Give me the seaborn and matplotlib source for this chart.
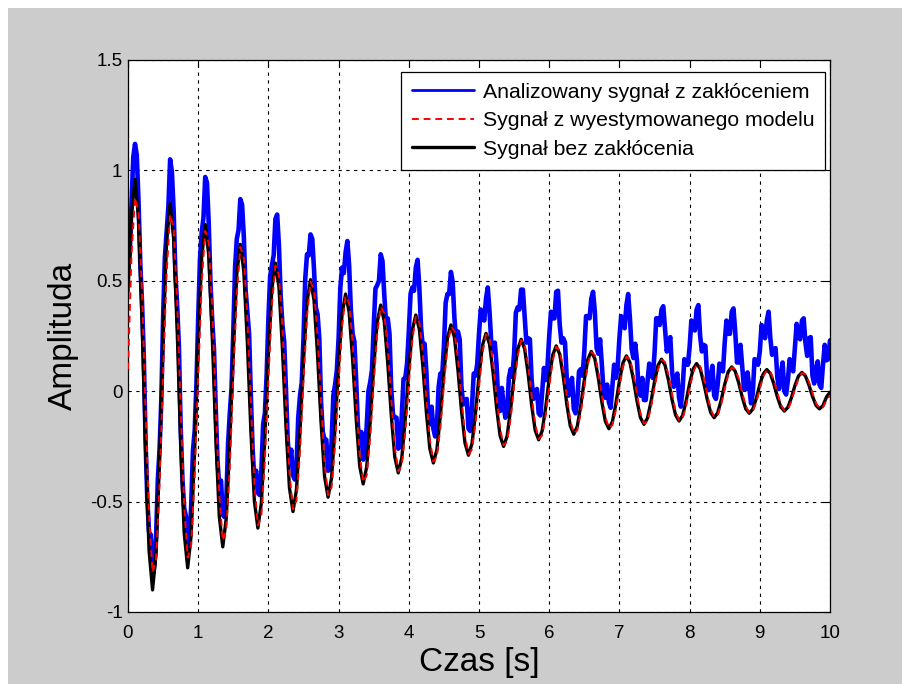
import numpy as np
import pandas as pd
import matplotlib
matplotlib.use("Agg")
import matplotlib.pyplot as plt
from matplotlib.patches import Rectangle
import seaborn as sns

# Dane odczytane z wykresu
# sygnal czysty i model: krok 0.05 s, sygnal z zakloceniem: krok 0.025 s
czas = np.round(np.arange(201) * 0.05, 3)
czas_szum = np.round(np.arange(401) * 0.025, 3)

sygnal_bez_zaklocen = [
    0.45, 0.80,
    0.96, 0.782, 0.317, -0.257, -0.722, -0.90, -0.733, -0.295, 0.245, 0.683, 0.85,
    0.692, 0.280, -0.230, -0.642, -0.80, -0.652, -0.263, 0.218, 0.607, 0.755,
    0.616, 0.251, -0.201, -0.566, -0.705, -0.574, -0.232, 0.192, 0.534, 0.665,
    0.542, 0.221, -0.176, -0.497, -0.62, -0.505, -0.205, 0.165, 0.465, 0.58,
    0.473, 0.191, -0.156, -0.438, -0.545, -0.445, -0.182, 0.142, 0.405, 0.505,
    0.411, 0.165, -0.140, -0.386, -0.48, -0.392, -0.162, 0.122, 0.352, 0.44,
    0.358, 0.143, -0.123, -0.338, -0.42, -0.343, -0.140, 0.110, 0.313, 0.39,
    0.317, 0.127, -0.107, -0.297, -0.37, -0.302, -0.123, 0.098, 0.277, 0.345,
    0.281, 0.114, -0.094, -0.261, -0.325, -0.265, -0.109, 0.084, 0.240, 0.30,
    0.244, 0.096, -0.086, -0.234, -0.29, -0.237, -0.099, 0.071, 0.209, 0.262,
    0.213, 0.085, -0.073, -0.201, -0.25, -0.204, -0.083, 0.068, 0.189, 0.235,
    0.192, 0.078, -0.063, -0.177, -0.22, -0.179, -0.073, 0.058, 0.164, 0.205,
    0.167, 0.067, -0.057, -0.157, -0.195, -0.159, -0.065, 0.050, 0.144, 0.18,
    0.147, 0.059, -0.049, -0.137, -0.17, -0.138, -0.056, 0.046, 0.128, 0.16,
    0.130, 0.053, -0.043, -0.120, -0.15, -0.122, -0.048, 0.043, 0.117, 0.145,
    0.118, 0.048, -0.038, -0.108, -0.135, -0.110, -0.045, 0.035, 0.100, 0.125,
    0.102, 0.040, -0.035, -0.097, -0.12, -0.098, -0.041, 0.031, 0.088, 0.11,
    0.090, 0.037, -0.027, -0.080, -0.10, -0.081, -0.032, 0.030, 0.079, 0.098,
    0.080, 0.033, -0.025, -0.072, -0.09, -0.073, -0.030, 0.025, 0.068, 0.085,
    0.069, 0.028, -0.023, -0.064, -0.08, -0.065, -0.026, -0.005,
]

sygnal_modelu = [
    0.10, 0.62,
    0.877, 0.811, 0.445, -0.080, -0.564, -0.821, -0.760, -0.416, 0.078, 0.534, 0.80,
    0.741, 0.406, -0.075, -0.518, -0.754, -0.697, -0.381, 0.072, 0.490, 0.726,
    0.672, 0.369, -0.065, -0.466, -0.678, -0.627, -0.343, 0.065, 0.440, 0.653,
    0.604, 0.332, -0.058, -0.418, -0.608, -0.563, -0.309, 0.055, 0.391, 0.569,
    0.527, 0.289, -0.053, -0.368, -0.535, -0.495, -0.273, 0.046, 0.340, 0.496,
    0.458, 0.250, -0.049, -0.325, -0.471, -0.436, -0.242, 0.038, 0.295, 0.432,
    0.399, 0.217, -0.044, -0.285, -0.412, -0.382, -0.210, 0.036, 0.262, 0.383,
    0.354, 0.193, -0.038, -0.250, -0.363, -0.336, -0.185, 0.032, 0.232, 0.338,
    0.313, 0.171, -0.032, -0.219, -0.319, -0.295, -0.163, 0.027, 0.202, 0.294,
    0.272, 0.147, -0.032, -0.197, -0.285, -0.264, -0.147, 0.021, 0.175, 0.257,
    0.238, 0.129, -0.026, -0.169, -0.245, -0.227, -0.125, 0.023, 0.159, 0.231,
    0.214, 0.117, -0.021, -0.148, -0.216, -0.200, -0.110, 0.019, 0.138, 0.201,
    0.186, 0.101, -0.020, -0.132, -0.191, -0.177, -0.098, 0.016, 0.121, 0.177,
    0.163, 0.089, -0.017, -0.115, -0.167, -0.154, -0.085, 0.016, 0.108, 0.157,
    0.145, 0.080, -0.014, -0.101, -0.147, -0.136, -0.074, 0.016, 0.099, 0.142,
    0.132, 0.072, -0.013, -0.091, -0.132, -0.123, -0.068, 0.011, 0.084, 0.123,
    0.113, 0.062, -0.013, -0.081, -0.118, -0.109, -0.060, 0.009, 0.074, 0.108,
    0.100, 0.056, -0.008, -0.067, -0.098, -0.091, -0.049, 0.011, 0.067, 0.096,
    0.089, 0.049, -0.008, -0.060, -0.088, -0.082, -0.045, 0.009, 0.057, 0.083,
    0.077, 0.042, -0.008, -0.054, -0.079, -0.073, -0.040, -0.020,
]

sygnal_zaklocony = [
    0.55, 0.62, 0.85, 1.06,
    1.12, 1.07, 0.86, 0.58, 0.40, 0.16, -0.22, -0.49, -0.64, -0.65,
    -0.84, -0.79, -0.66, -0.40, -0.26, -0.035, 0.33, 0.605, 0.72, 0.835,
    1.05, 0.995, 0.82, 0.535, 0.39, 0.205, -0.16, -0.395, -0.53, -0.565,
    -0.74, -0.69, -0.52, -0.27, -0.18, 0.035, 0.33, 0.595, 0.72, 0.785,
    0.97, 0.945, 0.76, 0.49, 0.32, 0.19, -0.08, -0.315, -0.43, -0.405,
    -0.56, -0.57, -0.50, -0.24, -0.10, 0.015, 0.27, 0.56, 0.69, 0.73,
    0.87, 0.845, 0.70, 0.46, 0.36, 0.26, -0.02, -0.26, -0.40, -0.36,
    -0.46, -0.47, -0.36, -0.15, -0.10, 0.075, 0.33, 0.52, 0.57, 0.615,
    0.78, 0.80, 0.66, 0.43, 0.30, 0.225, 0.01, -0.22, -0.33, -0.265,
    -0.38, -0.40, -0.34, -0.12, -0.02, 0.04, 0.24, 0.51, 0.62, 0.615,
    0.71, 0.69, 0.55, 0.38, 0.35, 0.24, -0.05, -0.185, -0.22, -0.22,
    -0.36, -0.355, -0.23, -0.02, 0.03, 0.095, 0.24, 0.47, 0.56, 0.535,
    0.63, 0.68, 0.57, 0.365, 0.26, 0.225, 0.05, -0.155, -0.24, -0.185,
    -0.31, -0.275, -0.16, 0.00, 0.04, 0.095, 0.29, 0.465, 0.48, 0.50,
    0.62, 0.59, 0.44, 0.315, 0.33, 0.26, 0.01, -0.105, -0.12, -0.12,
    -0.26, -0.245, -0.11, 0.055, 0.06, 0.125, 0.27, 0.44, 0.47, 0.455,
    0.56, 0.595, 0.47, 0.285, 0.20, 0.215, 0.09, -0.09, -0.15, -0.07,
    -0.17, -0.205, -0.16, 0.02, 0.08, 0.07, 0.20, 0.40, 0.44, 0.44,
    0.54, 0.495, 0.33, 0.23, 0.27, 0.235, 0.02, -0.06, -0.04, -0.035,
    -0.17, -0.18, -0.07, 0.08, 0.07, 0.125, 0.26, 0.37, 0.34, 0.32,
    0.42, 0.47, 0.36, 0.22, 0.18, 0.22, 0.12, -0.045, -0.09, 0.015,
    -0.06, -0.12, -0.10, 0.06, 0.10, 0.065, 0.17, 0.355, 0.38, 0.37,
    0.46, 0.46, 0.34, 0.22, 0.24, 0.235, 0.05, -0.035, -0.02, 0.01,
    -0.10, -0.11, 0.00, 0.105, 0.05, 0.11, 0.25, 0.36, 0.33, 0.33,
    0.45, 0.455, 0.30, 0.22, 0.24, 0.22, 0.06, -0.02, 0.02, 0.06,
    -0.08, -0.10, -0.04, 0.09, 0.10, 0.07, 0.18, 0.34, 0.34, 0.33,
    0.42, 0.45, 0.36, 0.195, 0.17, 0.235, 0.12, -0.005, -0.03, 0.03,
    -0.05, -0.075, 0.02, 0.12, 0.06, 0.11, 0.24, 0.34, 0.30, 0.285,
    0.39, 0.44, 0.33, 0.19, 0.15, 0.215, 0.14, 0.00, -0.02, 0.06,
    -0.04, -0.04, 0.04, 0.125, 0.09, 0.06, 0.17, 0.33, 0.33, 0.30,
    0.37, 0.385, 0.28, 0.18, 0.22, 0.245, 0.09, 0.02, 0.05, 0.08,
    -0.03, -0.07, 0.01, 0.145, 0.12, 0.12, 0.20, 0.32, 0.30, 0.275,
    0.37, 0.39, 0.25, 0.18, 0.21, 0.205, 0.06, 0.005, 0.07, 0.115,
    -0.02, -0.035, 0.03, 0.125, 0.10, 0.09, 0.22, 0.32, 0.26, 0.26,
    0.36, 0.375, 0.27, 0.13, 0.13, 0.21, 0.11, 0.01, 0.01, 0.085,
    0.02, -0.055, -0.01, 0.145, 0.14, 0.12, 0.18, 0.30, 0.28, 0.24,
    0.32, 0.36, 0.24, 0.165, 0.19, 0.195, 0.06, 0.01, 0.08, 0.13,
    0.00, -0.015, 0.05, 0.145, 0.12, 0.09, 0.20, 0.305, 0.25, 0.235,
    0.32, 0.33, 0.22, 0.16, 0.24, 0.245, 0.07, 0.035, 0.10, 0.135,
    0.03, 0.015, 0.12, 0.21, 0.14, 0.145, 0.23,
]

etykiety = [
    "Analizowany sygnał z zakłóceniem",
    "Sygnał z wyestymowanego modelu",
    "Sygnał bez zakłócenia",
]
x_ticks = [0, 1, 2, 3, 4, 5, 6, 7, 8, 9, 10]
y_ticks = [-1, -0.5, 0, 0.5, 1, 1.5]
y_tick_labels = ["-1", "-0.5", "0", "0.5", "1", "1.5"]

df = pd.DataFrame({"czas": czas, "model": sygnal_modelu, "czysty": sygnal_bez_zaklocen})
df_szum = pd.DataFrame({"czas": czas_szum, "zaklocony": sygnal_zaklocony})

sns.set_style("white")
plt.rcParams["font.family"] = ["Liberation Sans", "DejaVu Sans"]
plt.rcParams["text.color"] = "black"
plt.rcParams["axes.labelcolor"] = "black"

fig = plt.figure(figsize=(9.03, 6.84), dpi=100, facecolor="white")
# szare tlo okna jak w MATLAB-ie
fig.patches.append(Rectangle((8 / 903, 0), 1, 1 - 8 / 684, transform=fig.transFigure,
                             facecolor="#cccccc", edgecolor="none", zorder=-10))
ax = fig.add_axes([128 / 903, 1 - 612 / 684, 702 / 903, 552 / 684])
ax.set_facecolor("white")

sns.lineplot(data=df_szum, x="czas", y="zaklocony", ax=ax, color=(0, 0, 1), lw=3.3,
             label=etykiety[0], zorder=2)
sns.lineplot(data=df, x="czas", y="czysty", ax=ax, color="black", lw=2.4,
             label=etykiety[2], zorder=3)
sns.lineplot(data=df, x="czas", y="model", ax=ax, color=(1, 0, 0), lw=1.4,
             label=etykiety[1], zorder=4)
ax.lines[2].set_dashes([3.5, 2.5])

ax.set_xlim(0, 10)
ax.set_ylim(-1, 1.5)
ax.set_xticks(x_ticks)
ax.set_xticklabels([str(v) for v in x_ticks])
ax.set_yticks(y_ticks)
ax.set_yticklabels(y_tick_labels)
ax.tick_params(direction="in", length=5, width=0.8, top=True, right=True,
               labelsize=13.5, colors="black")
ax.tick_params(axis="x", pad=9)
ax.tick_params(axis="y", pad=4)
ax.grid(True, color="black", linestyle=(0, (3, 4)), linewidth=0.8)
for s in ax.spines.values():
    s.set_color("black")
    s.set_linewidth(0.9)

ax.set_xlabel("Czas [s]", fontsize=24, labelpad=4, color="black")
ax.set_ylabel("Amplituda", fontsize=24, labelpad=8, color="black")

h, l = ax.get_legend_handles_labels()
kolejnosc = [0, 2, 1]
leg = ax.legend([h[i] for i in kolejnosc], [l[i] for i in kolejnosc],
                loc="upper right", bbox_to_anchor=(0.993, 0.978), borderaxespad=0,
                fontsize=15.3, frameon=True, fancybox=False, edgecolor="black",
                framealpha=1, handlelength=2.95, labelspacing=0.45,
                borderpad=0.5, handletextpad=0.4, labelcolor="black")
leg.get_frame().set_linewidth(0.9)
leg.get_lines()[0].set_linewidth(2.0)

fig.savefig("out.png", dpi=100, facecolor=fig.get_facecolor())
